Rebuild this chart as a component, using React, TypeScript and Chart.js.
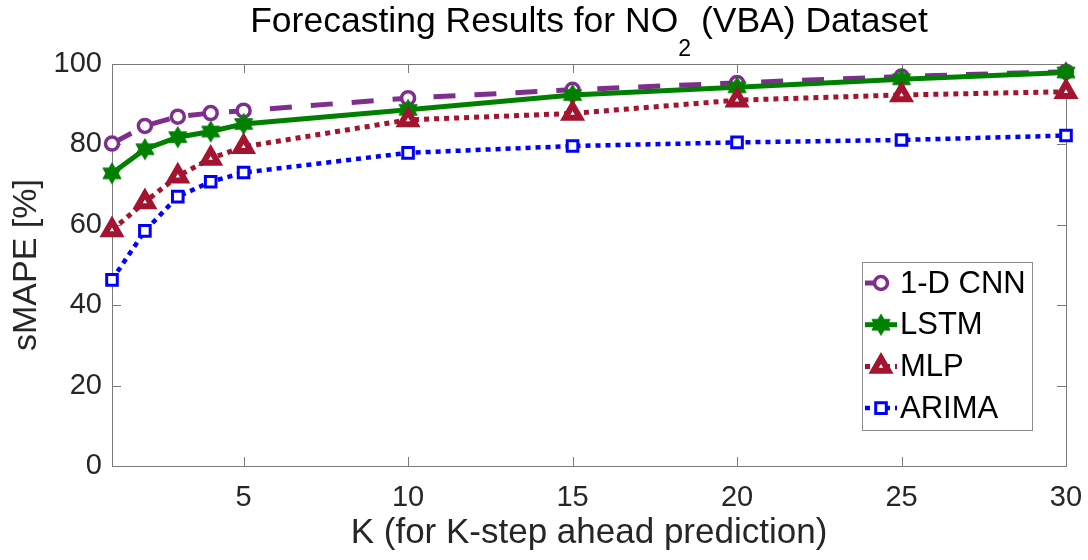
import React, { useEffect, useRef } from 'react';
import { Chart, registerables } from 'chart.js';

Chart.register(...registerables);

// ---------- data ----------
const kSteps = [1, 2, 3, 4, 5, 10, 15, 20, 25, 30];
const cnnValues = [80.2, 84.6, 86.9, 87.8, 88.4, 91.5, 93.6, 95.3, 96.9, 98.1];
const lstmValues = [72.8, 78.8, 81.8, 83.2, 85.1, 88.6, 92.3, 94.2, 96.2, 97.9];
const mlpValues = [58.7, 65.7, 72.1, 76.5, 79.4, 86.1, 87.7, 91.0, 92.3, 93.1];
const arimaValues = [46.3, 58.5, 67.0, 70.7, 73.0, 77.9, 79.6, 80.5, 81.1, 82.2];
const seriesNames = ['1-D CNN', 'LSTM', 'MLP', 'ARIMA'];
const xTickValues = [5, 10, 15, 20, 25, 30];
const yTickValues = [0, 20, 40, 60, 80, 100];
const titleMain = 'Forecasting Results for NO';
const titleSub = '2';
const titleRest = ' (VBA) Dataset';
const xTitle = 'K (for K-step ahead prediction)';
const yTitle = 'sMAPE [%]';

// ---------- styles ----------
const FONT = '"Liberation Sans", Arial, Helvetica, sans-serif';
const PURPLE = '#7E2F8E';
const GREEN = '#008000';
const RED = '#A2142F';
const BLUE = '#0000FF';
const AXIS = '#7a7a7a';
const TEXT = '#262626';

function makeHexagram(color: string): HTMLCanvasElement {
  const c = document.createElement('canvas');
  const size = 24;
  c.width = size;
  c.height = size;
  const g = c.getContext('2d')!;
  const cx = size / 2;
  const cy = size / 2;
  const ro = 10.5;
  const ri = ro / Math.sqrt(3);
  g.beginPath();
  for (let i = 0; i < 12; i++) {
    const ang = -Math.PI / 2 + (i * Math.PI) / 6;
    const r = i % 2 === 0 ? ro : ri;
    const px = cx + r * Math.cos(ang);
    const py = cy + r * Math.sin(ang);
    if (i === 0) g.moveTo(px, py);
    else g.lineTo(px, py);
  }
  g.closePath();
  g.fillStyle = color;
  g.fill();
  g.strokeStyle = color;
  g.lineWidth = 1;
  g.stroke();
  return c;
}

function drawLegendMarker(ctx: CanvasRenderingContext2D, ds: any, x: number, y: number) {
  const style = ds.pointStyle;
  ctx.save();
  if (typeof style !== 'string') {
    ctx.drawImage(style, x - style.width / 2, y - style.height / 2);
    ctx.restore();
    return;
  }
  const r = ds.pointRadius;
  ctx.beginPath();
  if (style === 'circle') {
    ctx.arc(x, y, r, 0, Math.PI * 2);
  } else if (style === 'triangle') {
    for (let i = 0; i < 3; i++) {
      const a = (i * 2 * Math.PI) / 3;
      const px = x + Math.sin(a) * r;
      const py = y - Math.cos(a) * r;
      if (i === 0) ctx.moveTo(px, py);
      else ctx.lineTo(px, py);
    }
    ctx.closePath();
  } else if (style === 'rect') {
    const s = r * Math.SQRT1_2;
    ctx.rect(x - s, y - s, 2 * s, 2 * s);
  }
  ctx.fillStyle = ds.pointBackgroundColor;
  ctx.fill();
  ctx.lineWidth = ds.pointBorderWidth;
  ctx.strokeStyle = ds.pointBorderColor;
  ctx.stroke();
  ctx.restore();
}

const decorPlugin = {
  id: 'decor',
  beforeDatasetsDraw(chart: any) {
    const { ctx, chartArea: a, scales } = chart;
    const xs = scales.x;
    const ys = scales.y;
    ctx.save();
    ctx.strokeStyle = AXIS;
    ctx.lineWidth = 1;
    ctx.strokeRect(Math.round(a.left) + 0.5, Math.round(a.top) + 0.5, Math.round(a.right - a.left), Math.round(a.bottom - a.top));
    const tl = 9;
    ctx.beginPath();
    xs.ticks.forEach((t: any) => {
      const px = Math.round(xs.getPixelForValue(t.value)) + 0.5;
      ctx.moveTo(px, a.bottom);
      ctx.lineTo(px, a.bottom - tl);
      ctx.moveTo(px, a.top);
      ctx.lineTo(px, a.top + tl);
    });
    ys.ticks.forEach((t: any) => {
      const py = Math.round(ys.getPixelForValue(t.value)) + 0.5;
      ctx.moveTo(a.left, py);
      ctx.lineTo(a.left + tl, py);
      ctx.moveTo(a.right, py);
      ctx.lineTo(a.right - tl, py);
    });
    ctx.stroke();
    ctx.restore();
  },
  afterDraw(chart: any) {
    const { ctx, chartArea: a } = chart;
    ctx.save();
    // title with subscript
    const mainFont = `35.5px ${FONT}`;
    const subFont = `23px ${FONT}`;
    ctx.font = mainFont;
    const w1 = ctx.measureText(titleMain).width;
    const w3 = ctx.measureText(titleRest).width;
    ctx.font = subFont;
    const w2 = ctx.measureText(titleSub).width;
    const total = w1 + w2 + w3;
    let tx = (a.left + a.right) / 2 - total / 2;
    const ty = 22;
    ctx.fillStyle = '#000';
    ctx.textBaseline = 'middle';
    ctx.textAlign = 'left';
    ctx.font = mainFont;
    ctx.fillText(titleMain, tx, ty);
    tx += w1;
    ctx.font = subFont;
    ctx.fillText(titleSub, tx, ty + 28);
    tx += w2;
    ctx.font = mainFont;
    ctx.fillText(titleRest, tx, ty);

    // legend
    const bx = a.right - 204;
    const by = a.bottom - 204;
    const bw = 170;
    const bh = 168;
    ctx.fillStyle = '#fff';
    ctx.fillRect(bx, by, bw, bh);
    ctx.strokeStyle = '#8c8c8c';
    ctx.lineWidth = 1;
    ctx.strokeRect(bx + 0.5, by + 0.5, bw, bh);
    const dsets = chart.data.datasets;
    ctx.font = `31px ${FONT}`;
    for (let i = 0; i < dsets.length; i++) {
      const ds = dsets[i];
      const cy = by + 21 + i * 41.7;
      const lx0 = bx + 3;
      const lx1 = bx + 35;
      ctx.save();
      ctx.strokeStyle = ds.borderColor;
      ctx.lineWidth = ds.borderWidth;
      ctx.setLineDash(ds.borderDash || []);
      ctx.beginPath();
      ctx.moveTo(lx0, cy);
      ctx.lineTo(lx1, cy);
      ctx.stroke();
      ctx.restore();
      drawLegendMarker(ctx, ds, (lx0 + lx1) / 2, cy);
      ctx.fillStyle = '#000';
      ctx.textAlign = 'left';
      ctx.textBaseline = 'middle';
      ctx.fillText(ds.label, bx + 38, cy + 1);
    }
    ctx.restore();
  },
};

export default function App() {
  const canvasRef = useRef<HTMLCanvasElement | null>(null);

  useEffect(() => {
    if (!canvasRef.current) return;
    const hex = makeHexagram(GREEN);
    const toXY = (vals: number[]) => kSteps.map((k, i) => ({ x: k, y: vals[i] }));
    const chart = new Chart(canvasRef.current, {
      type: 'line',
      data: {
        datasets: [
          {
            label: seriesNames[0],
            data: toXY(cnnValues),
            borderColor: PURPLE,
            borderWidth: 5,
            borderDash: [22, 19],
            borderCapStyle: 'butt',
            pointStyle: 'circle',
            pointRadius: 6.5,
            pointBorderWidth: 3.5,
            pointBackgroundColor: '#fff',
            pointBorderColor: PURPLE,
            order: 4,
            clip: false,
          } as any,
          {
            label: seriesNames[1],
            data: toXY(lstmValues),
            borderColor: GREEN,
            borderWidth: 5,
            pointStyle: hex,
            pointRadius: 10,
            pointBackgroundColor: GREEN,
            pointBorderColor: GREEN,
            order: 3,
            clip: false,
          } as any,
          {
            label: seriesNames[2],
            data: toXY(mlpValues),
            borderColor: RED,
            borderWidth: 5,
            borderDash: [5, 5],
            borderCapStyle: 'butt',
            pointStyle: 'triangle',
            pointRadius: 8.5,
            pointBorderWidth: 6,
            pointBackgroundColor: '#fff',
            pointBorderColor: RED,
            order: 2,
            clip: false,
          } as any,
          {
            label: seriesNames[3],
            data: toXY(arimaValues),
            borderColor: BLUE,
            borderWidth: 4.5,
            borderDash: [5, 5],
            borderCapStyle: 'butt',
            pointStyle: 'rect',
            pointRadius: 7.5,
            pointBorderWidth: 3,
            pointBackgroundColor: '#fff',
            pointBorderColor: BLUE,
            order: 1,
            clip: false,
          } as any,
        ],
      },
      options: {
        animation: false,
        responsive: false,
        devicePixelRatio: 1,
        events: [],
        layout: { padding: { top: 64, right: 22, bottom: 0, left: 0 } },
        plugins: {
          legend: { display: false },
          title: { display: false },
          tooltip: { enabled: false },
        },
        scales: {
          x: {
            type: 'linear',
            min: 1,
            max: 30,
            grid: { display: false, drawTicks: false },
            border: { display: false },
            afterBuildTicks: (scale: any) => {
              scale.ticks = xTickValues.map((v) => ({ value: v }));
            },
            afterFit: (scale: any) => {
              scale.height = 94;
              scale.paddingLeft = 0;
              scale.paddingRight = 0;
            },
            ticks: {
              autoSkip: false,
              maxRotation: 0,
              padding: 15,
              color: TEXT,
              font: { family: FONT, size: 29, lineHeight: 1.2 },
            },
            title: {
              display: true,
              text: xTitle,
              color: TEXT,
              font: { family: FONT, size: 35, lineHeight: 1.2 },
              padding: { top: 0, bottom: 6 },
            },
          },
          y: {
            type: 'linear',
            min: 0,
            max: 100,
            grid: { display: false, drawTicks: false },
            border: { display: false },
            afterBuildTicks: (scale: any) => {
              scale.ticks = yTickValues.map((v) => ({ value: v }));
            },
            afterFit: (scale: any) => {
              scale.width = 112;
              scale.paddingTop = 0;
              scale.paddingBottom = 0;
            },
            ticks: {
              padding: 10,
              color: TEXT,
              font: { family: FONT, size: 29, lineHeight: 1.2 },
            },
            title: {
              display: true,
              text: yTitle,
              color: TEXT,
              font: { family: FONT, size: 34, lineHeight: 1.2 },
              padding: { top: 6.6, bottom: 0 },
            },
          },
        },
      },
      plugins: [decorPlugin],
    } as any);
    return () => chart.destroy();
  }, []);

  return (
    <div style={{ position: 'absolute', left: 0, top: 0, width: 1088, height: 560, background: '#fff' }}>
      <canvas ref={canvasRef} width={1088} height={560} style={{ display: 'block', width: 1088, height: 560 }} />
    </div>
  );
}
